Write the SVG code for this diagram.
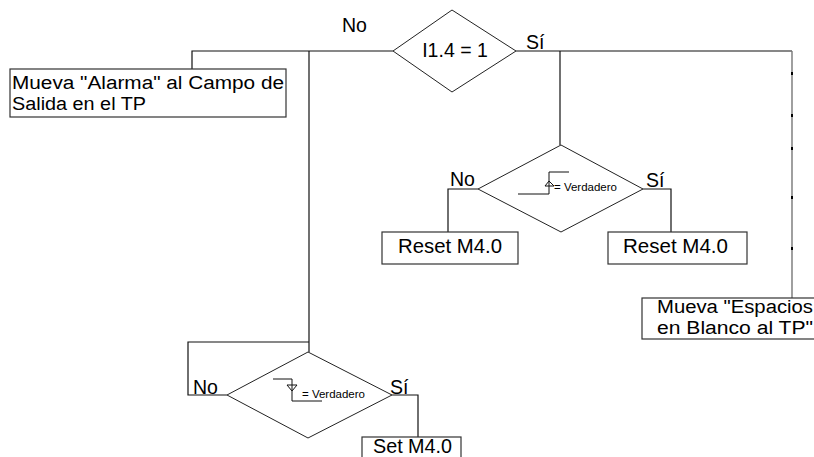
<svg xmlns="http://www.w3.org/2000/svg" width="814" height="457" viewBox="0 0 814 457">
<style>
.box{fill:#fff;stroke:#333;stroke-width:1.2}
.dia{fill:#fff;stroke:#222;stroke-width:1}
.ln{fill:none;stroke:#111;stroke-width:1.2}
.gl{fill:none;stroke:#777;stroke-width:1.4}
.t{font-family:"Liberation Sans",Arial,sans-serif;font-size:19.5px;fill:#000}
.m{font-family:"Liberation Sans",Arial,sans-serif;font-size:18px;fill:#000}
.s{font-family:"Liberation Sans",Arial,sans-serif;font-size:11.5px;fill:#000}
.sym{fill:none;stroke:#111;stroke-width:1}
</style>
<rect width="814" height="457" fill="#fff"/>
<g id="connectors">
<polyline class="ln" points="393,51 192,51 192,69"/>
<polyline class="ln" points="309,51 309,352"/>
<polyline class="ln" points="309,342 188,342 188,395 227,395"/>
<polyline class="ln" points="392,395 418,395 418,437"/>
<polyline class="ln" points="516,51 792,51"/>
<polyline class="gl" points="792,51 792,298"/>
<polyline class="ln" points="560,51 560,145"/>
<polyline class="ln" points="478,189 448,189 448,232"/>
<polyline class="ln" points="643,189 671,189 671,232"/>
<g stroke="#000" stroke-width="2">
<line x1="792" y1="72" x2="792" y2="75"/>
<line x1="792" y1="114" x2="792" y2="117"/>
<line x1="792" y1="147" x2="792" y2="150"/>
<line x1="792" y1="196" x2="792" y2="199"/>
<line x1="792" y1="247" x2="792" y2="250"/>
</g>
<text class="t" x="342" y="32">No</text>
<text class="t" x="526" y="49">Sí</text>
<text class="t" x="450" y="186">No</text>
<text class="t" x="646" y="187">Sí</text>
<text class="t" x="193" y="394">No</text>
<text class="t" x="390" y="394">Sí</text>
</g>
<g id="cond1">
<polygon class="dia" points="393,51 452,10 516,51 452,92"/>
<text class="t" x="455" y="57" text-anchor="middle">I1.4 = 1</text>
</g>
<g id="alarma">
<rect class="box" x="10" y="69" width="276" height="48"/>
<text class="m" x="12" y="89" textLength="272" lengthAdjust="spacingAndGlyphs">Mueva "Alarma" al Campo de</text>
<text class="m" x="12" y="110" textLength="134" lengthAdjust="spacingAndGlyphs">Salida en el TP</text>
</g>
<g id="cond2">
<polygon class="dia" points="478,189 561,145 643,189 561,232"/>
<polyline class="sym" points="518,194 549,194 549,172 569,172"/>
<polygon class="sym" fill="#fff" points="545,186 554,186 549,181"/>
<text class="s" x="554" y="191">= Verdadero</text>
</g>
<g id="reset1">
<rect class="box" x="382" y="232" width="136" height="32"/>
<text class="t" x="398" y="253" textLength="104" lengthAdjust="spacingAndGlyphs">Reset M4.0</text>
</g>
<g id="reset2">
<rect class="box" x="608" y="232" width="139" height="32"/>
<text class="t" x="623" y="253" textLength="105" lengthAdjust="spacingAndGlyphs">Reset M4.0</text>
</g>
<g id="espacios">
<rect class="box" x="642" y="298" width="180" height="41"/>
<text class="m" x="657" y="313" textLength="156" lengthAdjust="spacingAndGlyphs">Mueva "Espacios</text>
<text class="m" x="657" y="334" textLength="156" lengthAdjust="spacingAndGlyphs">en Blanco al TP"</text>
</g>
<g id="cond3">
<polygon class="dia" points="227,395 308,352 392,395 308,438"/>
<polyline class="sym" points="273,379 292,379 292,401 322,401"/>
<polygon class="sym" fill="#fff" points="287,385 297,385 292,391"/>
<text class="s" x="302" y="398">= Verdadero</text>
</g>
<g id="set">
<rect class="box" x="362" y="437" width="99" height="30"/>
<text class="t" x="373" y="453" textLength="79" lengthAdjust="spacingAndGlyphs">Set M4.0</text>
</g>
</svg>
